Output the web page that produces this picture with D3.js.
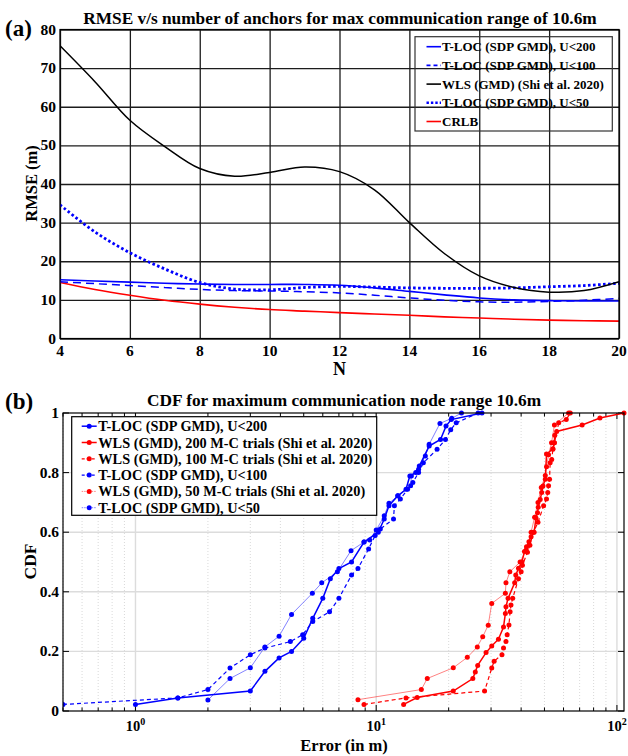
<!DOCTYPE html>
<html><head><meta charset="utf-8">
<script src="https://cdn.jsdelivr.net/npm/d3@7"></script>
<style>
body{margin:0;background:#fff}
text{font-family:"Liberation Serif","Times New Roman",serif;font-weight:bold;fill:#000}
</style>
</head><body>
<svg id="c" width="628" height="756"></svg>
<script>
// ---------- DATA : panel (a) ----------
const anchorsN      = [4,5,6,7,8,9,10,11,12,13,14,15,16,17,18,19,20];
const rmseTlocU200  = [15.2,14.9,14.6,14.3,14.1,14.0,14.0,14.0,13.8,13.1,12.2,11.3,10.5,10.0,9.8,9.7,9.7];
const rmseTlocU100  = [14.7,14.2,13.7,13.2,12.7,12.4,12.3,12.1,11.8,11.2,10.5,9.9,9.5,9.4,9.6,9.9,10.4];
const rmseWLS       = [75.8,66.5,56.5,49.7,44.0,42.0,43.0,44.4,43.2,38.5,30.0,22.0,16.2,13.2,12.0,12.4,14.7];
const rmseTlocU50   = [34.6,27.6,22.2,18.0,14.5,12.8,12.6,13.2,13.5,13.3,13.1,13.0,13.0,13.1,13.4,13.7,14.3];
const rmseCRLB      = [14.5,12.7,11.2,9.9,8.9,8.1,7.5,7.1,6.7,6.35,6.0,5.6,5.3,5.0,4.75,4.6,4.5];
const topTicksX     = [4,6,8,10,12,14,16,18,20];
const topTicksY     = [0,10,20,30,40,50,60,70,80];
const topLegend     = ["T-LOC (SDP GMD), U<200","T-LOC (SDP GMD), U<100","WLS (GMD) (Shi et al. 2020)","T-LOC (SDP GMD), U<50","CRLB"];

// ---------- DATA : panel (b)  [error (m), CDF] ----------
const cdfTlocU200 = [[1.0,0.022],[1.5,0.044],[3.0,0.067],[3.45,0.133],[3.95,0.178],[4.45,0.2],[5.0,0.244],[5.45,0.311],[6.0,0.378],[6.45,0.444],[7.0,0.478],[7.9,0.5],[8.9,0.567],[10.2,0.6],[10.8,0.644],[11.3,0.689],[12.3,0.722],[13.3,0.744],[13.8,0.789],[14.6,0.8],[15.1,0.822],[16.6,0.889],[18.5,0.911],[19.5,0.956],[20.5,0.978],[27.5,1.0]];
const cdfWLS200   = [[13.0,0.022],[14.8,0.045],[20.9,0.067],[25.2,0.109],[25.8,0.131],[26.4,0.153],[28.6,0.196],[30.2,0.218],[32.2,0.241],[33.8,0.282],[34.4,0.327],[34.6,0.35],[35.3,0.378],[37.6,0.43],[38.0,0.456],[39.0,0.479],[40.3,0.5],[41.3,0.535],[42.1,0.551],[43.1,0.568],[44.0,0.585],[45.3,0.6],[46.1,0.648],[46.8,0.665],[47.1,0.684],[48.0,0.71],[48.7,0.733],[49.3,0.755],[50.4,0.778],[51.0,0.862],[54.2,0.88],[54.9,0.9],[55.2,0.925],[56.2,0.938],[71.7,0.96],[85.0,0.983],[107,1.0]];
const cdfWLS100   = [[8.9,0.022],[13.3,0.044],[28.2,0.067],[30.2,0.144],[30.9,0.167],[33.3,0.189],[33.8,0.211],[34.6,0.233],[35.0,0.256],[35.6,0.289],[36.0,0.333],[36.3,0.356],[36.9,0.378],[39.0,0.444],[40.0,0.467],[40.5,0.489],[42.5,0.533],[43.5,0.556],[45.0,0.6],[47.0,0.633],[49.6,0.689],[51.0,0.711],[51.6,0.733],[52.0,0.756],[52.5,0.778],[52.8,0.833],[53.6,0.844],[54.2,0.878],[55.0,0.9],[57.3,0.967],[61.6,0.978],[64.0,1.0]];
const cdfTlocU100 = [[0.5,0.022],[1.5,0.044],[2.0,0.072],[2.47,0.144],[3.0,0.189],[3.45,0.211],[4.4,0.233],[4.95,0.256],[5.45,0.3],[6.4,0.333],[7.0,0.378],[7.9,0.456],[8.4,0.478],[9.3,0.544],[9.9,0.589],[10.4,0.611],[11.8,0.644],[11.9,0.689],[12.6,0.711],[13.5,0.744],[14.2,0.767],[15.0,0.8],[15.7,0.833],[17.9,0.878],[19.4,0.911],[20.4,0.944],[21.5,0.967],[26.5,1.0]];
const cdfWLS50    = [[8.4,0.038],[15.4,0.072],[16.3,0.109],[20.9,0.145],[23.9,0.18],[26.3,0.215],[27.7,0.249],[29.2,0.288],[30.2,0.361],[34.4,0.395],[34.6,0.43],[35.9,0.467],[39.6,0.5],[42.0,0.54],[44.0,0.6],[45.5,0.65],[47.0,0.7],[48.5,0.75],[50.4,0.79],[51.0,0.82],[52.0,0.86],[53.5,0.9],[55.0,0.96],[63.0,1.0]];
const cdfTlocU50  = [[2.0,0.037],[2.47,0.109],[3.0,0.145],[3.45,0.215],[3.95,0.251],[4.45,0.324],[5.43,0.395],[5.94,0.43],[6.9,0.467],[7.86,0.538],[8.9,0.567],[9.4,0.574],[10.0,0.607],[10.8,0.655],[11.3,0.697],[12.3,0.722],[13.9,0.756],[14.0,0.789],[15.0,0.811],[16.0,0.856],[16.6,0.895],[18.4,0.965],[20.6,0.982],[22.6,1.0]];
const cdfTicksY   = [0,0.2,0.4,0.6,0.8,1];
const cdfTickLabY = ["0","0.2","0.4","0.6","0.8","1"];
const cdfTicksX   = [1,10,100];
const cdfTickExp  = ["0","1","2"];
const cdfLegend   = ["T-LOC (SDP GMD), U<200","WLS (GMD), 200 M-C trials (Shi et al. 2020)","WLS (GMD), 100 M-C trials (Shi et al. 2020)","T-LOC (SDP GMD), U<100","WLS (GMD), 50 M-C trials (Shi et al. 2020)","T-LOC (SDP GMD), U<50"];

const svg = d3.select('#c');

// ================= PANEL (a) =================
const A = {l:60, r:619, t:29.5, b:338.5};
const tx = d3.scaleLinear().domain([4,20]).range([A.l,A.r]);
const ty = d3.scaleLinear().domain([0,80]).range([A.b,A.t]);
const ga = svg.append('g');
ga.append('clipPath').attr('id','clipA').append('rect').attr('x',A.l).attr('y',A.t).attr('width',A.r-A.l).attr('height',A.b-A.t);

// grid
ga.append('g').attr('transform',`translate(0,${A.b})`)
  .call(d3.axisBottom(tx).tickValues(topTicksX).tickSize(-(A.b-A.t)).tickFormat(''))
  .call(g=>{g.select('.domain').remove();g.selectAll('line').attr('stroke','#1c1c1c').attr('stroke-width',1.3);});
ga.append('g').attr('transform',`translate(${A.l},0)`)
  .call(d3.axisLeft(ty).tickValues(topTicksY).tickSize(-(A.r-A.l)).tickFormat(''))
  .call(g=>{g.select('.domain').remove();g.selectAll('line').attr('stroke','#1c1c1c').attr('stroke-width',1.3);});

const topSeries = [
  {v:rmseTlocU200, c:'#0000ff', w:1.6, d:null},
  {v:rmseTlocU100, c:'#0000ff', w:1.5, d:'8,5'},
  {v:rmseWLS,      c:'#000000', w:1.5, d:null},
  {v:rmseTlocU50,  c:'#0000ff', w:2.8, d:'2.6,2.4'},
  {v:rmseCRLB,     c:'#ff0000', w:1.6, d:null}
];
const lineA = d3.line().x((d,i)=>tx(anchorsN[i])).y(d=>ty(d)).curve(d3.curveCatmullRom.alpha(0.5));
const drawOrder=[4,0,1,3,2];
drawOrder.forEach(k=>{const s=topSeries[k];
  ga.append('path').attr('clip-path','url(#clipA)').attr('d',lineA(s.v)).attr('fill','none')
    .attr('stroke',s.c).attr('stroke-width',s.w).attr('stroke-dasharray',s.d);
});
ga.append('rect').attr('x',A.l).attr('y',A.t).attr('width',A.r-A.l).attr('height',A.b-A.t).attr('fill','none').attr('stroke','#000').attr('stroke-width',1.2);

// tick labels
ga.selectAll('.xl').data(topTicksX).enter().append('text').attr('x',d=>tx(d)).attr('y',A.b+17)
  .attr('text-anchor','middle').style('font-size','15.5px').text(d=>d);
ga.selectAll('.yl').data(topTicksY).enter().append('text').attr('x',A.l-4).attr('y',d=>ty(d)+5)
  .attr('text-anchor','end').style('font-size','15.5px').text(d=>d);
ga.append('text').attr('x',339.5).attr('y',375).attr('text-anchor','middle').style('font-size','18px').text('N');
ga.append('text').attr('transform','translate(37,183.5) rotate(-90)').attr('text-anchor','middle').style('font-size','16.5px').text('RMSE (m)');
ga.append('text').attr('x',340).attr('y',24).attr('text-anchor','middle').style('font-size','17.3px').text('RMSE v/s number of anchors for max communication range of 10.6m');
ga.append('text').attr('x',5).attr('y',36).style('font-size','23px').text('(a)');

// legend (a)
const LA = {x:415, y:36.7, w:197.3, h:94.3};
ga.append('rect').attr('x',LA.x).attr('y',LA.y).attr('width',LA.w).attr('height',LA.h).attr('fill','none').attr('stroke','#333').attr('stroke-width',1.2);
topLegend.forEach((name,i)=>{const s=topSeries[i]; const yy=LA.y+10+i*18.7;
  ga.append('line').attr('x1',426.5).attr('x2',441).attr('y1',yy).attr('y2',yy).attr('stroke',s.c)
    .attr('stroke-width',i===3?2.6:1.6).attr('stroke-dasharray',i===1?'4,3':(i===3?'2.4,2':null));
  ga.append('text').attr('x',442).attr('y',yy+4.5).style('font-size','13px').text(name);
});

// ================= PANEL (b) =================
const B = {l:63, r:624, t:413, b:711};
const bx = d3.scaleLog().domain([0.5,107]).range([B.l,B.r]);
const by = d3.scaleLinear().domain([0,1]).range([B.b,B.t]);
const gb = svg.append('g');
gb.append('clipPath').attr('id','clipB').append('rect').attr('x',B.l).attr('y',B.t-4).attr('width',B.r-B.l+4).attr('height',B.b-B.t+8);

const minorX=[]; [0.1,1,10].forEach(dec=>{for(let k=2;k<=9;k++){const v=dec*k; if(v>=0.5&&v<=107) minorX.push(v);}});
// minor grid
gb.selectAll('.mg').data(minorX).enter().append('line').attr('x1',d=>bx(d)).attr('x2',d=>bx(d)).attr('y1',B.t).attr('y2',B.b)
  .attr('stroke','#c8c8c8').attr('stroke-width',0.7).attr('stroke-dasharray','1,2');
// major grid
gb.selectAll('.gx').data(cdfTicksX).enter().append('line').attr('x1',d=>bx(d)).attr('x2',d=>bx(d)).attr('y1',B.t).attr('y2',B.b)
  .attr('stroke','#dcdcdc').attr('stroke-width',1.4);
gb.selectAll('.gy').data(cdfTicksY.slice(1,-1)).enter().append('line').attr('x1',B.l).attr('x2',B.r).attr('y1',d=>by(d)).attr('y2',d=>by(d))
  .attr('stroke','#dcdcdc').attr('stroke-width',1.4);

// ticks (inward)
const tickG = gb.append('g').attr('stroke','#000').attr('stroke-width',1);
minorX.forEach(v=>{tickG.append('line').attr('x1',bx(v)).attr('x2',bx(v)).attr('y1',B.b).attr('y2',B.b-3.5);
  tickG.append('line').attr('x1',bx(v)).attr('x2',bx(v)).attr('y1',B.t).attr('y2',B.t+3.5);});
cdfTicksX.forEach(v=>{tickG.append('line').attr('x1',bx(v)).attr('x2',bx(v)).attr('y1',B.b).attr('y2',B.b-6);
  tickG.append('line').attr('x1',bx(v)).attr('x2',bx(v)).attr('y1',B.t).attr('y2',B.t+6);});
cdfTicksY.forEach(v=>{tickG.append('line').attr('x1',B.l).attr('x2',B.l+6).attr('y1',by(v)).attr('y2',by(v));
  tickG.append('line').attr('x1',B.r).attr('x2',B.r-6).attr('y1',by(v)).attr('y2',by(v));});

const cdfSeries = [
  {v:cdfTlocU200, c:'#0000ff', w:1.5, d:null, o:1},
  {v:cdfWLS200,   c:'#ff0000', w:1.5, d:null, o:1},
  {v:cdfWLS100,   c:'#ff0000', w:1.2, d:'4,3', o:1},
  {v:cdfTlocU100, c:'#0000ff', w:1.2, d:'4,3', o:1},
  {v:cdfWLS50,    c:'#ff0000', w:0.9, d:null, o:0.55},
  {v:cdfTlocU50,  c:'#0000ff', w:0.9, d:null, o:0.55}
];
const lineB = d3.line().x(d=>bx(d[0])).y(d=>by(d[1]));
const plotB = gb.append('g').attr('clip-path','url(#clipB)');
[5,4,3,2,1,0].forEach(k=>{const s=cdfSeries[k];
  plotB.append('path').attr('d',lineB(s.v)).attr('fill','none').attr('stroke',s.c).attr('stroke-opacity',s.o)
    .attr('stroke-width',s.w).attr('stroke-dasharray',s.d);
  plotB.selectAll(null).data(s.v).enter().append('circle').attr('cx',d=>bx(d[0])).attr('cy',d=>by(d[1])).attr('r',2.5).attr('fill',s.c);
});
gb.append('rect').attr('x',B.l).attr('y',B.t).attr('width',B.r-B.l).attr('height',B.b-B.t).attr('fill','none').attr('stroke','#000').attr('stroke-width',1.2);

// tick labels
gb.selectAll('.yl').data(cdfTicksY).enter().append('text').attr('x',B.l-4).attr('y',d=>by(d)+5)
  .attr('text-anchor','end').style('font-size','15.5px').text((d,i)=>cdfTickLabY[i]);
cdfTicksX.forEach((v,i)=>{
  const t=gb.append('text').attr('x',bx(v)).attr('y',731).attr('text-anchor','middle').style('font-size','14.5px');
  t.append('tspan').text('10');
  t.append('tspan').attr('dy',-6).style('font-size','10px').text(cdfTickExp[i]);
});
gb.append('text').attr('x',344).attr('y',751).attr('text-anchor','middle').style('font-size','16.5px').text('Error (in m)');
gb.append('text').attr('transform','translate(36,561.5) rotate(-90)').attr('text-anchor','middle').style('font-size','17.5px').text('CDF');
gb.append('text').attr('x',344).attr('y',406).attr('text-anchor','middle').style('font-size','17.3px').text('CDF for maximum communication node range 10.6m');
gb.append('text').attr('x',5).attr('y',409).style('font-size','23px').text('(b)');

// legend (b)
const LB = {x:71.7, y:416.7, w:305, h:98.6};
gb.append('rect').attr('x',LB.x).attr('y',LB.y).attr('width',LB.w).attr('height',LB.h).attr('fill','#fff').attr('stroke','#000').attr('stroke-width',1.2);
cdfLegend.forEach((name,i)=>{const s=cdfSeries[i]; const yy=LB.y+9.5+i*16.3;
  gb.append('line').attr('x1',81.7).attr('x2',96.7).attr('y1',yy).attr('y2',yy).attr('stroke',s.c).attr('stroke-opacity',s.o)
    .attr('stroke-width',s.w).attr('stroke-dasharray',s.d?'3,2':(s.o<1?'1.5,1':null));
  gb.append('circle').attr('cx',89.2).attr('cy',yy).attr('r',2.5).attr('fill',s.c);
  gb.append('text').attr('x',98.3).attr('y',yy+5).style('font-size','14.3px').text(name);
});
</script>
</body></html>
